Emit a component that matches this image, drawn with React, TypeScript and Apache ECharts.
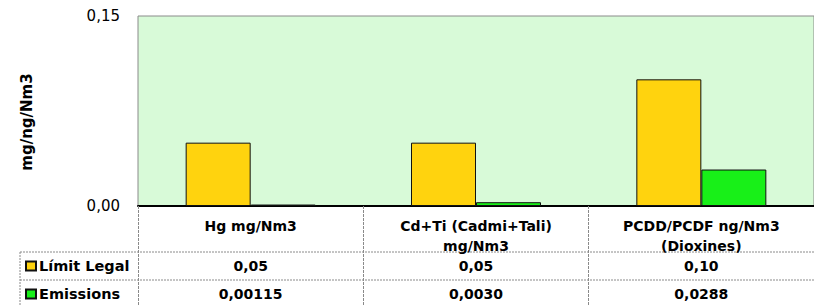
import React, { useEffect, useRef } from "react";
import * as echarts from "echarts";

const categories = ["Hg mg/Nm3", "Cd+Ti (Cadmi+Tali)\nmg/Nm3", "PCDD/PCDF ng/Nm3\n(Dioxines)"];
const seriesNames = ["Límit Legal", "Emissions"];
const limitValues = [0.05, 0.05, 0.1];
const emissionValues = [0.00115, 0.003, 0.0288];
const limitText = ["0,05", "0,05", "0,10"];
const emissionText = ["0,00115", "0,0030", "0,0288"];
const yMin = 0;
const yMax = 0.15;
const yTitle = "mg/ng/Nm3";

const FONT = "DejaVu Sans";

export default function App() {
  const ref = useRef<HTMLDivElement>(null);
  useEffect(() => {
    if (!ref.current) return;
    const chart = echarts.init(ref.current, null, { renderer: "svg" });
    const boldLabel = {
      fontFamily: FONT,
      fontWeight: "bold" as const,
      fontSize: 14,
      color: "#000",
    };
    const tableLine = { stroke: "#8a8a8a", lineWidth: 1, lineDash: [2, 1] };
    chart.setOption({
      animation: false,
      backgroundColor: "#fff",
      grid: {
        left: 138,
        top: 16,
        width: 678,
        height: 190,
        show: true,
        backgroundColor: "#d8fad8",
        borderColor: "#8a8a8a",
        borderWidth: 1,
      },
      legend: [
        {
          data: [seriesNames[0]],
          left: 25,
          top: 258,
          padding: 0,
          itemWidth: 10,
          itemHeight: 9,
          icon: "rect",
          textStyle: { ...boldLabel, fontSize: 14.5, lineHeight: 16, padding: [0, 0, 0, -2] },
        },
        {
          data: [seriesNames[1]],
          left: 25,
          top: 286,
          padding: 0,
          itemWidth: 10,
          itemHeight: 9,
          icon: "rect",
          textStyle: { ...boldLabel, fontSize: 14.5, lineHeight: 16, padding: [0, 0, 0, -2] },
        },
      ],
      xAxis: [
        {
          type: "category",
          data: categories,
          position: "bottom",
          axisLine: { show: true, lineStyle: { color: "#000", width: 2 } },
          axisTick: {
            show: true,
            length: 99,
            lineStyle: { color: "#8a8a8a", width: 1, type: [3, 1] },
          },
          axisLabel: { ...boldLabel, interval: 0, lineHeight: 20, margin: 10 },
          splitLine: { show: false },
        },
        {
          type: "category",
          data: limitText,
          position: "bottom",
          offset: 60,
          axisLine: { show: false },
          axisTick: { show: false },
          axisLabel: { ...boldLabel, interval: 0, margin: 0, verticalAlign: "middle" },
        },
        {
          type: "category",
          data: emissionText,
          position: "bottom",
          offset: 88,
          axisLine: { show: false },
          axisTick: { show: false },
          axisLabel: { ...boldLabel, interval: 0, margin: 0, verticalAlign: "middle" },
        },
      ],
      yAxis: {
        type: "value",
        min: yMin,
        max: yMax,
        interval: yMax,
        axisLine: { show: false },
        axisTick: { show: false },
        splitLine: { show: false },
        axisLabel: {
          fontFamily: FONT,
          fontSize: 15,
          color: "#000",
          margin: 18,
          formatter: (v: number) => v.toFixed(2).replace(".", ","),
        },
      },
      series: [
        {
          name: seriesNames[0],
          type: "bar",
          xAxisIndex: 0,
          data: limitValues,
          barWidth: 65,
          barGap: "0%",
          itemStyle: { color: "#ffd30e", borderColor: "#111", borderWidth: 1 },
        },
        {
          name: seriesNames[1],
          type: "bar",
          xAxisIndex: 0,
          data: emissionValues,
          barWidth: 65,
          barGap: "0%",
          itemStyle: { color: "#18f018", borderColor: "#111", borderWidth: 1 },
        },
      ],
      graphic: [
        {
          type: "text",
          x: 27,
          y: 122,
          rotation: Math.PI / 2,
          style: {
            text: yTitle,
            fontFamily: FONT,
            fontWeight: "bold",
            fontSize: 15,
            fill: "#000",
            align: "center",
            verticalAlign: "middle",
          },
        },
        { type: "line", shape: { x1: 20, y1: 252, x2: 814, y2: 252 }, style: tableLine },
        { type: "line", shape: { x1: 20, y1: 280, x2: 814, y2: 280 }, style: tableLine },
        { type: "line", shape: { x1: 20, y1: 252, x2: 20, y2: 305 }, style: tableLine },
      ],
    });
    return () => chart.dispose();
  }, []);
  return (
    <div
      ref={ref}
      style={{ position: "absolute", left: 0, top: 0, width: 814, height: 305 }}
    />
  );
}
